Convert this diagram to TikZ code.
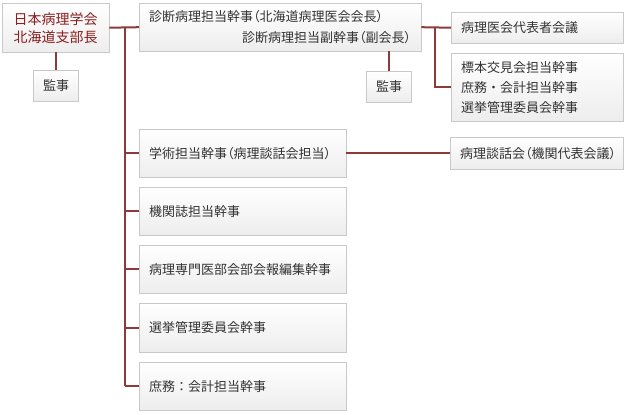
\documentclass[tikz,border=0pt]{standalone}
\usepackage{fontspec}
\usetikzlibrary{positioning, shadows}
\newfontfamily\jpfont[RawFeature=+palt]{Noto Sans CJK JP}
\newfontfamily\jpwide{Noto Sans CJK JP}
\definecolor{linkred}{HTML}{8C3A3A}
\definecolor{headred}{HTML}{8B1E1E}
\definecolor{boxedge}{HTML}{C9C9C9}
\definecolor{boxbottom}{HTML}{EDEDED}
\definecolor{boxtext}{HTML}{333333}

\begin{document}
\begin{tikzpicture}[x=1pt, y=-1pt,
    orgbox/.style={draw=boxedge, top color=white, bottom color=boxbottom,
        drop shadow={opacity=0.12, shadow xshift=0.8pt, shadow yshift=-0.8pt},
        anchor=north west, inner xsep=10pt, inner ysep=0pt, align=left,
        text=boxtext, font=\jpfont\fontsize{13}{20}\selectfont},
    leftbox/.style={orgbox, text width=187pt, minimum height=48pt},
    rightbox/.style={orgbox, text width=152pt},
    link/.style={draw=linkred, line width=2pt}]
    \def\xL{139} \def\xR{451}
    \useasboundingbox (0,0) rectangle (630,415);
    % Head and auditor
    \node[orgbox, align=center, text=headred, text width=87pt, minimum height=49pt,
        font=\jpfont\fontsize{14}{18}\selectfont] (head) at (2,3) {日本病理学会\\北海道支部長};
    \node[orgbox, align=center, text width=25pt, minimum height=31pt,
        font=\jpfont\fontsize{13}{16}\selectfont] (audit) at (33,70) {監事};
    % Diagnosis branch
    \node[orgbox, text width=262pt, minimum height=48pt, font=\jpfont\fontsize{13}{21}\selectfont] (diag) at (\xL,3)
        {診断病理担当幹事（北海道病理医会会長）\\\makebox[262pt][r]{診断病理担当副幹事（副会長）}};
    \node[orgbox, align=center, text width=25pt, minimum height=31pt,
        font=\jpfont\fontsize{13}{16}\selectfont] (diagaudit) at (366,71) {監事};
    \node[rightbox, minimum height=31pt] (repmeet) at (\xR,12) {病理医会代表者会議};
    \node[rightbox, minimum height=68pt] (specimen) at (\xR,53)
        {標本交見会担当幹事\\庶務{\jpwide ・}会計担当幹事\\選挙管理委員会幹事};
    % Trunk boxes
    \node[leftbox] (academic) at (\xL,129) {学術担当幹事（病理談話会担当）};
    \node[rightbox, text width=153pt, minimum height=32pt] (talk) at (450,137) {病理談話会（機関代表会議）};
    \node[leftbox] (journal) at (\xL,187) {機関誌担当幹事};
    \node[leftbox] (newsletter) at (\xL,245) {病理専門医部会部会報編集幹事};
    \node[leftbox, minimum height=49pt] (election) at (\xL,303) {選挙管理委員会幹事};
    \node[leftbox] (general) at (\xL,362) {庶務{\jpwide ：}会計担当幹事};
    % Connectors
    \coordinate (trunk) at (125,27);
    \coordinate (fork) at (435,27);
    \draw[link] (head.east) -- (diag.west);
    \draw[link] (head.south) -- (audit.north);
    \draw[link] (trunk) -- (trunk|-general.west);
    \foreach \n in {academic, journal, newsletter, election, general}
        \draw[link] (trunk|-\n.west) -- (\n.west);
    \draw[link] (diagaudit.north|-diag.south) -- (diagaudit.north);
    \draw[link] (diag.east) -- (repmeet.west);
    \draw[link] (fork) |- (specimen.west);
    \draw[link] (academic.east) -- (talk.west);
\end{tikzpicture}
\end{document}
